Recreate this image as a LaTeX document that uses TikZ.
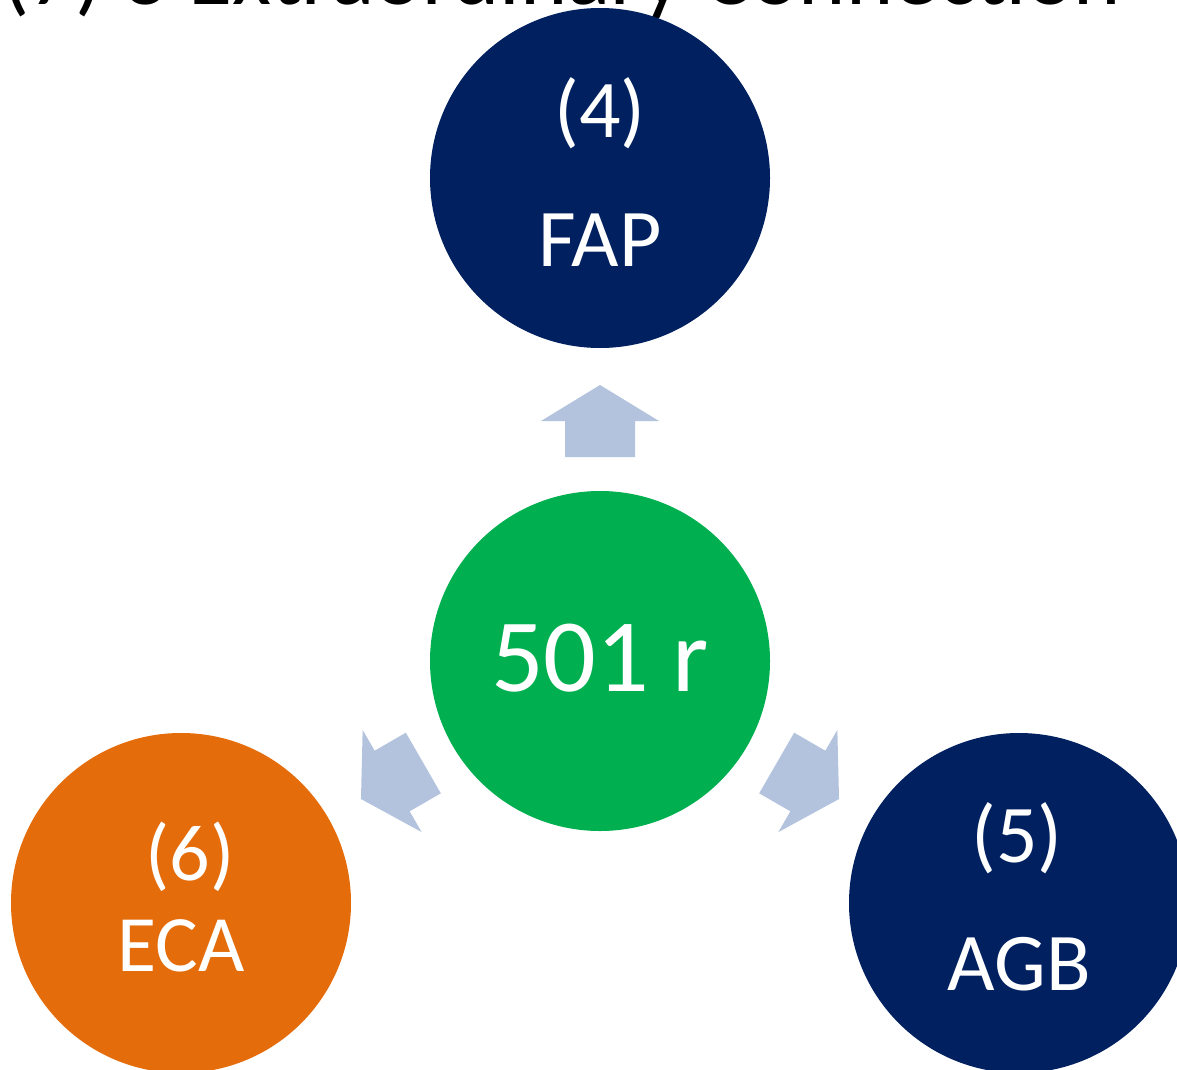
\documentclass[tikz,border=0pt]{standalone}
\usepackage{fontspec}
\setmainfont{Carlito}
\definecolor{navy}{HTML}{002060}
\definecolor{grn}{HTML}{00B050}
\definecolor{orng}{HTML}{E46C0A}
\definecolor{arr}{HTML}{B3C3DE}
\begin{document}
\begin{tikzpicture}[x=1pt,y=-1pt,
  bubble/.style={circle,minimum size=340pt,inner sep=0pt,text=white,align=center},
  arrowshape/.style={fill=arr,draw=none}]
\useasboundingbox (0,0) rectangle (1177,1070);
\begin{scope}
\clip (0,0) rectangle (1177,1070);
\node[anchor=base west,inner sep=0pt,font=\fontsize{90}{104}\selectfont] (title) at (2,5) {(7) 3 Extraordinary Connection};
\node[bubble,fill=navy] (fap) at (600,178) {};
\node[bubble,fill=grn] (ctr) at (600,661) {};
\node[bubble,fill=orng] (eca) at (181,903) {};
\node[bubble,fill=navy] (agb) at (1019,903) {};
\end{scope}
\node[text=white,font=\fontsize{82}{96}\selectfont] (fapn) at (600,113) {(4)};
\node[text=white,font=\fontsize{82}{96}\selectfont] (fapt) at (600,240) {FAP};
\node[text=white,font=\fontsize{104}{120}\selectfont] (ctrt) at (600,658) {501 r};
\node[text=white,font=\fontsize{80}{96}\selectfont] (ecan) at (190,857) {(6)};
\node[text=white,font=\fontsize{80}{96}\selectfont] (ecat) at (181,946) {ECA};
\node[text=white,font=\fontsize{82}{96}\selectfont] (agbn) at (1017,838) {(5)};
\node[text=white,font=\fontsize{82}{96}\selectfont] (agbt) at (1019,964) {AGB};
\foreach \r in {0,120,-120}{
  \begin{scope}[shift={(ctr.center)},rotate=\r]
    \fill[arrowshape] (0,-276) -- (59,-240) -- (35,-240) -- (35,-204) -- (-35,-204) -- (-35,-240) -- (-59,-240) -- cycle;
  \end{scope}
}
\end{tikzpicture}
\end{document}
